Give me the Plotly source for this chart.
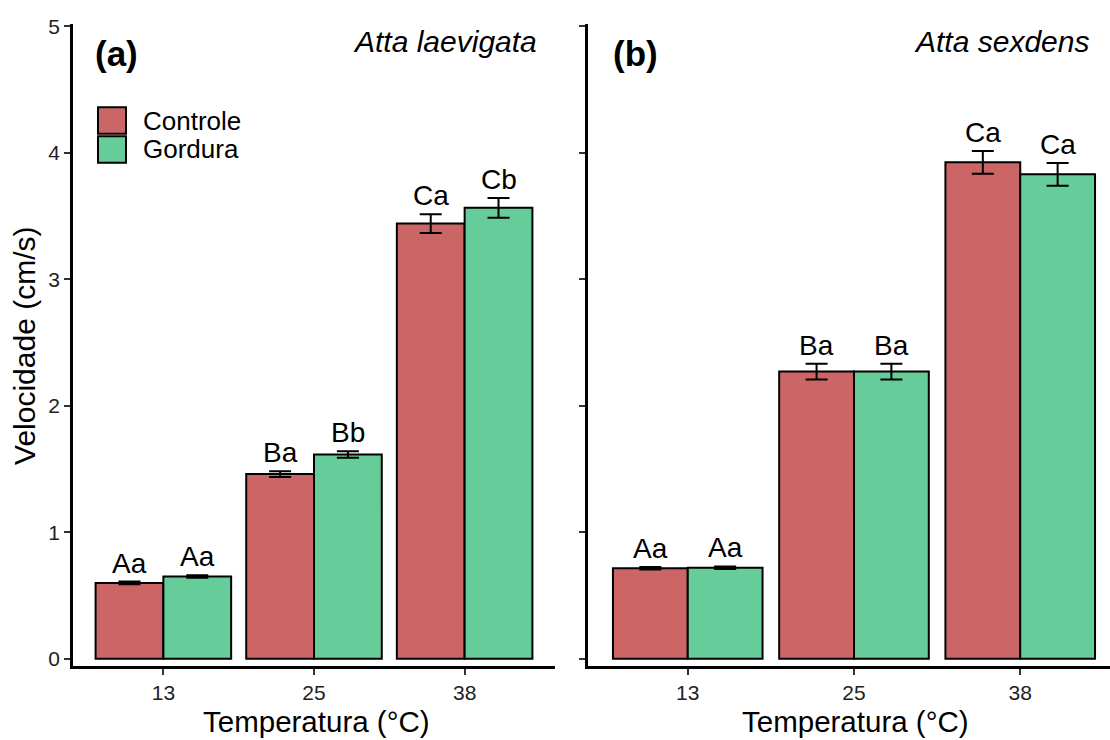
import plotly.graph_objects as go

# ---------------- data ----------------
temps = ["13", "25", "38"]
groups = ["Controle", "Gordura"]

laev_controle = [0.60, 1.46, 3.44]
laev_controle_se = [0.010, 0.022, 0.075]
laev_gordura = [0.65, 1.615, 3.565]
laev_gordura_se = [0.010, 0.025, 0.078]
laev_controle_lab = ["Aa", "Ba", "Ca"]
laev_gordura_lab = ["Aa", "Bb", "Cb"]

sex_controle = [0.715, 2.27, 3.925]
sex_controle_se = [0.010, 0.062, 0.090]
sex_gordura = [0.72, 2.27, 3.83]
sex_gordura_se = [0.010, 0.062, 0.090]
sex_controle_lab = ["Aa", "Ba", "Ca"]
sex_gordura_lab = ["Aa", "Ba", "Ca"]

y_ticks = [0, 1, 2, 3, 4, 5]

# ---------------- style ----------------
W, H = 1110, 740
RED = "#CC6666"
GREEN = "#66CC99"
FONT = "Arial, 'Liberation Sans', sans-serif"
BAR_W = 0.45

def px_x(p):
    return p / W

def px_y(p):
    return 1 - p / H

fig = go.Figure()

panels = [
    ("x", "y", laev_controle, laev_controle_se, laev_gordura, laev_gordura_se,
     laev_controle_lab, laev_gordura_lab),
    ("x2", "y2", sex_controle, sex_controle_se, sex_gordura, sex_gordura_se,
     sex_controle_lab, sex_gordura_lab),
]

idx = list(range(len(temps)))
annotations = []
for xa, ya, c, cse, g, gse, clab, glab in panels:
    for vals, se, labs, color, off, name in [
        (c, cse, clab, RED, -BAR_W / 2, groups[0]),
        (g, gse, glab, GREEN, BAR_W / 2, groups[1]),
    ]:
        xs = [i + off for i in idx]
        fig.add_trace(go.Bar(
            x=xs, y=vals, width=BAR_W, name=name, showlegend=False,
            marker=dict(color=color, line=dict(color="black", width=2)),
            error_y=dict(type="data", array=se, visible=True, color="black",
                         thickness=2, width=11),
            xaxis=xa, yaxis=ya, hoverinfo="skip",
        ))
        for xv, v, s, t in zip(xs, vals, se, labs):
            annotations.append(dict(
                x=xv, y=v + s, xref=xa, yref=ya, text=t, showarrow=False,
                yanchor="bottom", xanchor="center", yshift=1,
                font=dict(family=FONT, size=28, color="black"),
            ))

# panel labels / species
annotations += [
    dict(x=px_x(93), y=px_y(45), xref="paper", yref="paper", text="<b>(a)</b>",
         showarrow=False, xanchor="left", yanchor="middle",
         font=dict(family=FONT, size=35, color="black")),
    dict(x=px_x(539), y=px_y(33), xref="paper", yref="paper", text="<i>Atta laevigata</i>",
         showarrow=False, xanchor="right", yanchor="middle",
         font=dict(family=FONT, size=30, color="black")),
    dict(x=px_x(611), y=px_y(45), xref="paper", yref="paper", text="<b>(b)</b>",
         showarrow=False, xanchor="left", yanchor="middle",
         font=dict(family=FONT, size=35, color="black")),
    dict(x=px_x(1091), y=px_y(33), xref="paper", yref="paper", text="<i>Atta sexdens</i>",
         showarrow=False, xanchor="right", yanchor="middle",
         font=dict(family=FONT, size=30, color="black")),
    # axis titles
    dict(x=px_x(316), y=px_y(725), xref="paper", yref="paper", text="Temperatura (°C)",
         showarrow=False, xanchor="center", yanchor="middle",
         font=dict(family=FONT, size=29.5, color="black")),
    dict(x=px_x(855), y=px_y(725), xref="paper", yref="paper", text="Temperatura (°C)",
         showarrow=False, xanchor="center", yanchor="middle",
         font=dict(family=FONT, size=29.5, color="black")),
    dict(x=px_x(25), y=px_y(343), xref="paper", yref="paper", text="Velocidade (cm/s)",
         showarrow=False, xanchor="center", yanchor="middle", textangle=-90,
         font=dict(family=FONT, size=30, color="black")),
]

# custom legend
shapes = []
leg = [(groups[0], RED, 100, 127), (groups[1], GREEN, 129.5, 156.5)]
for name, color, y0, y1 in leg:
    shapes.append(dict(type="rect", xref="paper", yref="paper",
                       x0=px_x(98), x1=px_x(126), y0=px_y(y1), y1=px_y(y0),
                       fillcolor=color, line=dict(color="black", width=2)))
    annotations.append(dict(x=px_x(141), y=px_y((y0 + y1) / 2), xref="paper", yref="paper",
                            text=name, showarrow=False, xanchor="left", yanchor="middle",
                            font=dict(family=FONT, size=26, color="black")))

ydom = [px_y(669), px_y(15)]
yrange = [-0.059, 5.02]
tick_font = dict(family=FONT, size=21, color="#222222")
common_y = dict(range=yrange, domain=ydom, showline=True, linecolor="black", linewidth=2.5,
                ticks="outside", ticklen=6, tickwidth=1.5, tickcolor="#333333",
                tickvals=y_ticks, showgrid=False, zeroline=False, fixedrange=True,
                tickfont=tick_font)
common_x = dict(showline=True, linecolor="black", linewidth=2.5,
                ticks="outside", ticklen=6, tickwidth=1.5, tickcolor="#333333",
                tickvals=idx, ticktext=temps, showgrid=False, zeroline=False,
                fixedrange=True, tickfont=tick_font)

fig.update_layout(
    width=W, height=H,
    margin=dict(l=0, r=0, t=0, b=0),
    paper_bgcolor="white", plot_bgcolor="white",
    barmode="overlay",
    showlegend=False,
    xaxis=dict(domain=[px_x(73), px_x(555)], range=[-0.6, 2.6], anchor="y", **common_x),
    yaxis=dict(anchor="x", **common_y),
    xaxis2=dict(domain=[px_x(588), 1.0], range=[-0.6, 2.54], anchor="y2", **common_x),
    yaxis2=dict(anchor="x2", showticklabels=False, **common_y),
    annotations=annotations,
    shapes=shapes,
    font=dict(family=FONT),
)

fig.write_html(
    "out.html",
    config={"displayModeBar": False},
    post_script="document.body.style.margin='0';document.body.style.overflow='hidden';",
)
